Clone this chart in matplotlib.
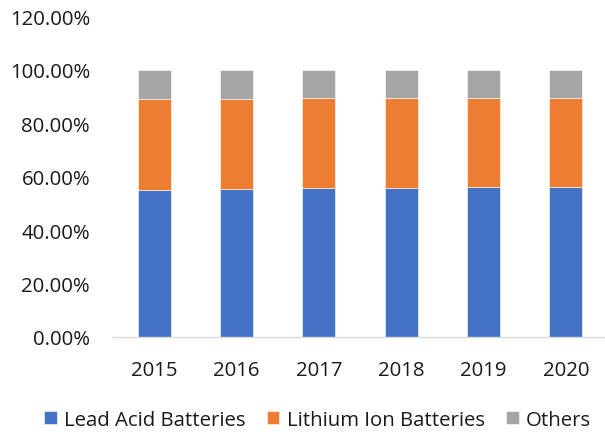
import matplotlib
matplotlib.use("Agg")
import matplotlib.pyplot as plt
import numpy as np

years = ["2015", "2016", "2017", "2018", "2019", "2020"]
lead_acid = [55.2, 55.6, 55.9, 55.7, 56.0, 56.0]
lithium_ion = [33.9, 33.5, 33.5, 33.7, 33.6, 33.6]
others = [10.9, 10.9, 10.6, 10.6, 10.4, 10.4]
series_names = ["Lead Acid Batteries", "Lithium Ion Batteries", "Others"]
colors = ["#4472C4", "#ED7D31", "#A5A5A5"]
yticks = [0, 20, 40, 60, 80, 100, 120]

plt.rcParams['font.family'] = ['Open Sans', 'DejaVu Sans']

fig = plt.figure(figsize=(6.05, 4.39), dpi=100)
ax = fig.add_axes([113/605, 1-338/439, 494/605, (338-17.6)/439])

x = np.arange(len(years))
width = 0.40
bottom = np.zeros(len(years))
for vals, name, c in zip([lead_acid, lithium_ion, others], series_names, colors):
    ax.bar(x, vals, width, bottom=bottom, color=c, label=name, edgecolor='white', linewidth=0.4)
    bottom += np.array(vals)

ax.set_xlim(-0.5, len(years)-0.5)
ax.set_ylim(0, 120)
ax.set_yticks(yticks)
ax.set_yticklabels([f"{v:.2f}%" for v in yticks], fontsize=14.7, color='#1a1a1a')
ax.set_xticks(x)
ax.set_xticklabels(years, fontsize=14.7, color='#1a1a1a')
for s in ['top', 'right', 'left']:
    ax.spines[s].set_visible(False)
ax.spines['bottom'].set_color('#D9D9D9')
ax.spines['bottom'].set_linewidth(1.0)
ax.tick_params(axis='both', length=0)
ax.tick_params(axis='y', pad=16.5)
ax.tick_params(axis='x', pad=16.5)

leg = fig.legend(loc='center', bbox_to_anchor=(317.5/605, 1-421/439), ncol=3, frameon=False,
                 fontsize=14.7, handlelength=0.62, handleheight=0.62, handletextpad=0.35,
                 columnspacing=1.05, labelcolor='#1a1a1a')

fig.savefig("out.png", dpi=100)
